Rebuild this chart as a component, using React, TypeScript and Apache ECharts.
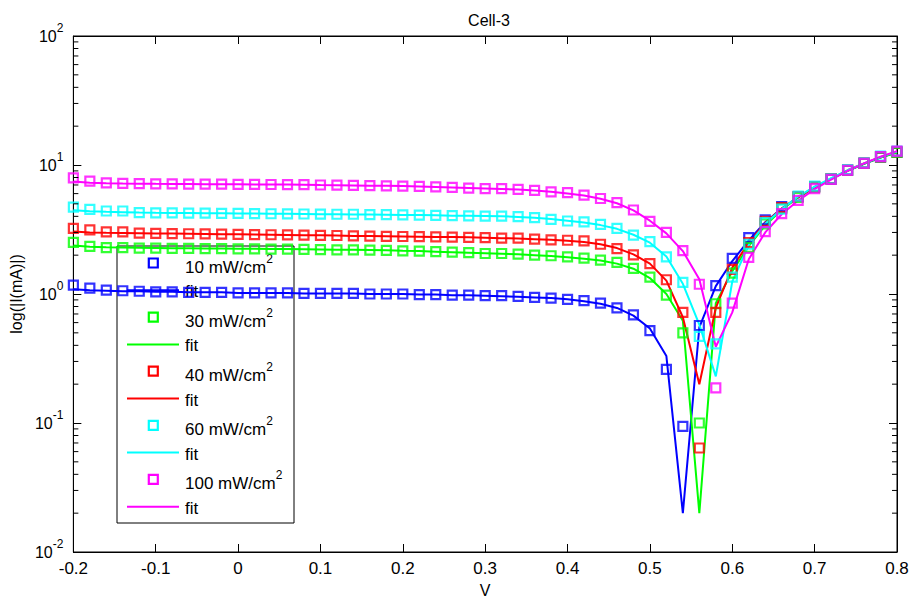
import React, { useEffect, useRef } from 'react';
import * as echarts from 'echarts';

const FONT = '"Liberation Sans", Arial, Helvetica, sans-serif';

const voltage = [
  -0.2, -0.18, -0.16, -0.14, -0.12, -0.1, -0.08, -0.06, -0.04, -0.02,
  0.0, 0.02, 0.04, 0.06, 0.08, 0.1, 0.12, 0.14, 0.16, 0.18,
  0.2, 0.22, 0.24, 0.26, 0.28, 0.3, 0.32, 0.34, 0.36, 0.38,
  0.4, 0.42, 0.44, 0.46, 0.48, 0.5, 0.52, 0.54, 0.56, 0.58,
  0.6, 0.62, 0.64, 0.66, 0.68, 0.7, 0.72, 0.74, 0.76, 0.78, 0.8,
];

// measured |I| (mA)
const meas10 = [
  1.17, 1.11, 1.07, 1.06, 1.05, 1.04, 1.04, 1.03, 1.03, 1.03,
  1.02, 1.02, 1.02, 1.02, 1.01, 1.01, 1.01, 1.01, 1.0, 1.0,
  1.0, 0.99, 0.99, 0.98, 0.98, 0.97, 0.97, 0.96, 0.94, 0.93,
  0.91, 0.89, 0.85, 0.78, 0.69, 0.52, 0.26, 0.094, 0.57, 1.16,
  1.89, 2.74, 3.75, 4.75, 5.7, 6.8, 7.8, 9.1, 10.3, 11.5, 12.6,
];
const meas30 = [
  2.51, 2.34, 2.29, 2.29, 2.27, 2.27, 2.26, 2.26, 2.25, 2.25,
  2.24, 2.24, 2.23, 2.23, 2.22, 2.21, 2.2, 2.2, 2.19, 2.18,
  2.16, 2.15, 2.13, 2.11, 2.09, 2.06, 2.06, 2.04, 2.0, 1.98,
  1.94, 1.9, 1.83, 1.76, 1.58, 1.35, 0.98, 0.5, 0.1, 0.84,
  1.45, 2.3, 3.5, 4.6, 5.6, 6.7, 7.8, 9.1, 10.3, 11.5, 12.5,
];
const meas40 = [
  3.23, 3.14, 3.03, 3.03, 2.96, 2.95, 2.94, 2.93, 2.92, 2.91,
  2.9, 2.89, 2.88, 2.87, 2.86, 2.85, 2.84, 2.82, 2.81, 2.8,
  2.79, 2.78, 2.77, 2.76, 2.75, 2.74, 2.71, 2.71, 2.66, 2.63,
  2.61, 2.58, 2.43, 2.25, 2.01, 1.72, 1.29, 0.72, 0.064, 0.72,
  1.55, 2.5, 3.65, 4.67, 5.7, 6.8, 7.8, 9.2, 10.4, 11.6, 12.7,
];
const meas60 = [
  4.72, 4.53, 4.4, 4.4, 4.27, 4.26, 4.25, 4.24, 4.23, 4.22,
  4.21, 4.2, 4.19, 4.18, 4.17, 4.16, 4.15, 4.15, 4.13, 4.12,
  4.1, 4.09, 4.07, 4.05, 4.04, 4.02, 4.02, 3.98, 3.91, 3.79,
  3.68, 3.62, 3.47, 3.23, 2.86, 2.55, 1.94, 1.23, 0.47, 0.41,
  1.35, 2.43, 3.58, 4.55, 5.74, 6.85, 7.8, 9.2, 10.4, 11.7, 12.8,
];
const meas100 = [
  7.96, 7.5, 7.28, 7.2, 7.18, 7.15, 7.13, 7.12, 7.1, 7.1,
  7.08, 7.07, 7.06, 7.05, 7.04, 7.0, 6.98, 6.95, 6.92, 6.9,
  6.86, 6.82, 6.76, 6.7, 6.62, 6.55, 6.55, 6.47, 6.35, 6.2,
  6.1, 5.85, 5.5, 5.1, 4.48, 3.65, 3.0, 2.17, 1.19, 0.187,
  0.85, 1.92, 3.05, 4.2, 5.32, 6.55, 7.73, 9.1, 10.3, 11.6, 12.8,
];

// fitted |I| (mA)
const fit10 = [
  1.09, 1.07, 1.06, 1.05, 1.05, 1.04, 1.04, 1.03, 1.03, 1.03,
  1.02, 1.02, 1.02, 1.02, 1.01, 1.01, 1.01, 1.01, 1.0, 1.0,
  1.0, 0.99, 0.99, 0.98, 0.98, 0.97, 0.96, 0.95, 0.94, 0.93,
  0.91, 0.88, 0.84, 0.78, 0.68, 0.54, 0.33, 0.02, 0.55, 1.15,
  1.8, 2.6, 3.6, 4.6, 5.6, 6.7, 7.8, 9.0, 10.2, 11.4, 12.6,
];
const fit30 = [
  2.38, 2.32, 2.3, 2.29, 2.28, 2.27, 2.26, 2.26, 2.25, 2.25,
  2.24, 2.24, 2.23, 2.23, 2.22, 2.21, 2.2, 2.2, 2.19, 2.18,
  2.16, 2.15, 2.13, 2.11, 2.09, 2.07, 2.05, 2.03, 2.0, 1.97,
  1.93, 1.88, 1.82, 1.72, 1.57, 1.33, 1.0, 0.62, 0.02, 0.85,
  1.5, 2.35, 3.4, 4.5, 5.6, 6.7, 7.8, 9.0, 10.2, 11.4, 12.5,
];
const fit40 = [
  3.05, 3.0, 2.98, 2.97, 2.96, 2.95, 2.94, 2.93, 2.92, 2.91,
  2.9, 2.89, 2.88, 2.87, 2.86, 2.85, 2.84, 2.82, 2.81, 2.8,
  2.79, 2.78, 2.77, 2.76, 2.75, 2.73, 2.71, 2.69, 2.66, 2.63,
  2.59, 2.53, 2.43, 2.27, 2.03, 1.72, 1.27, 0.66, 0.2, 0.78,
  1.6, 2.5, 3.55, 4.6, 5.65, 6.75, 7.85, 9.1, 10.3, 11.5, 12.7,
];
const fit60 = [
  4.45, 4.38, 4.34, 4.31, 4.28, 4.26, 4.25, 4.24, 4.23, 4.22,
  4.21, 4.2, 4.19, 4.18, 4.17, 4.16, 4.15, 4.14, 4.13, 4.12,
  4.1, 4.09, 4.07, 4.05, 4.04, 4.02, 4.0, 3.96, 3.9, 3.81,
  3.7, 3.58, 3.42, 3.2, 2.88, 2.5, 1.95, 1.2, 0.58, 0.23,
  1.25, 2.4, 3.5, 4.55, 5.7, 6.8, 7.9, 9.1, 10.3, 11.5, 12.7,
];
const fit100 = [
  7.45, 7.3, 7.22, 7.18, 7.16, 7.14, 7.13, 7.12, 7.1, 7.09,
  7.08, 7.07, 7.06, 7.05, 7.03, 7.0, 6.98, 6.95, 6.92, 6.89,
  6.86, 6.81, 6.76, 6.7, 6.64, 6.58, 6.52, 6.45, 6.35, 6.2,
  6.02, 5.8, 5.48, 5.05, 4.45, 3.7, 2.95, 2.15, 1.3, 0.39,
  0.72, 1.86, 3.0, 4.15, 5.3, 6.5, 7.7, 9.0, 10.3, 11.6, 12.8,
];

const measuredSets = [meas10, meas30, meas40, meas60, meas100];
const fitSets = [fit10, fit30, fit40, fit60, fit100];
const intensityLabels = ['10', '30', '40', '60', '100'];
const seriesColors = ['#0000ff', '#00ff00', '#ff0000', '#00ffff', '#ff00ff'];
const fitLabel = 'fit';
const unitLabel = ' mW/cm';

const xTickMin = -0.2;
const xTickMax = 0.8;
const xTickStep = 0.1;
const yMin = 0.01;
const yMax = 100;
const minorTickValues = [
  0.02, 0.03, 0.04, 0.05, 0.06, 0.07, 0.08, 0.09,
  0.2, 0.3, 0.4, 0.5, 0.6, 0.7, 0.8, 0.9,
  2, 3, 4, 5, 6, 7, 8, 9,
  20, 30, 40, 50, 60, 70, 80, 90,
];

const titleText = 'Cell-3';
const xName = 'V';
const yName = 'log(|I(mA)|)';

export default function App() {
  const ref = useRef<HTMLDivElement>(null);

  useEffect(() => {
    const chart = echarts.init(ref.current!, null, { renderer: 'svg' });

    const supRich = {
      b: { fontSize: 16, lineHeight: 16, fontFamily: FONT, color: '#000' },
      s: { fontSize: 12, lineHeight: 12, padding: [0, 0, 16, 0], fontFamily: FONT, color: '#000' },
    };

    const series: any[] = [];
    measuredSets.forEach((m, k) => {
      series.push({
        type: 'scatter',
        name: intensityLabels[k] + unitLabel + '2',
        data: voltage.map((v, i) => [v, m[i]]),
        symbol: 'rect',
        symbolSize: 9,
        itemStyle: { color: 'rgba(0,0,0,0)', borderColor: seriesColors[k], borderWidth: 2.2 },
        silent: true,
        z: 3,
      });
      series.push({
        type: 'line',
        name: fitLabel + ' ' + intensityLabels[k],
        data: voltage.map((v, i) => [v, fitSets[k][i]]),
        showSymbol: false,
        symbol: 'none',
        lineStyle: { color: seriesColors[k], width: 2 },
        silent: true,
        z: 3,
      });
    });

    series.push({
      type: 'custom',
      name: 'minorTicks',
      silent: true,
      clip: false,
      z: 4,
      encode: { x: 0, y: 1 },
      data: minorTickValues.map((v) => [xTickMin, v]),
      renderItem: (params: any, api: any) => {
        const v = api.value(1);
        const l = api.coord([xTickMin, v]);
        const r = api.coord([xTickMax, v]);
        return {
          type: 'group',
          children: [
            { type: 'line', shape: { x1: l[0], y1: l[1], x2: l[0] + 5, y2: l[1] }, style: { stroke: '#000', lineWidth: 1 } },
            { type: 'line', shape: { x1: r[0], y1: r[1], x2: r[0] - 5, y2: r[1] }, style: { stroke: '#000', lineWidth: 1 } },
          ],
        };
      },
    });

    // legend box drawn with graphic elements
    const legLeft = 117;
    const legTop = 246;
    const legW = 177;
    const legH = 277;
    const row0 = 263;
    const rowStep = 54.1;
    const fitOffset = 27.3;
    const legendChildren: any[] = [
      {
        type: 'rect',
        shape: { x: legLeft, y: legTop, width: legW, height: legH },
        style: { fill: '#fff', stroke: '#000', lineWidth: 1 },
      },
    ];
    intensityLabels.forEach((lab, k) => {
      const y = row0 + k * rowStep;
      legendChildren.push({
        type: 'rect',
        shape: { x: 148.8, y: y - 4.5, width: 9, height: 9 },
        style: { fill: 'none', stroke: seriesColors[k], lineWidth: 2.2 },
      });
      legendChildren.push({
        type: 'text',
        x: 185,
        y: y + 4.5,
        style: {
          text: `{b|${lab}${unitLabel}}{s|2}`,
          verticalAlign: 'middle',
          align: 'left',
          rich: {
            b: { fontSize: 17, lineHeight: 17, fontFamily: FONT, fill: '#000', color: '#000' },
            s: { fontSize: 12, lineHeight: 12, padding: [0, 0, 17, 0], fontFamily: FONT, fill: '#000', color: '#000' },
          },
        },
      });
      legendChildren.push({
        type: 'line',
        shape: { x1: 127, y1: y + fitOffset, x2: 179, y2: y + fitOffset },
        style: { stroke: seriesColors[k], lineWidth: 2 },
      });
      legendChildren.push({
        type: 'text',
        x: 185,
        y: y + fitOffset + 1.5,
        style: {
          text: fitLabel,
          verticalAlign: 'middle',
          align: 'left',
          fontSize: 17,
          fontFamily: FONT,
          fill: '#000',
        },
      });
    });

    const xAxisBase = {
      type: 'value',
      min: xTickMin,
      max: xTickMax,
      interval: xTickStep,
      splitLine: { show: false },
      axisLine: { show: true, onZero: false, lineStyle: { color: '#000', width: 1 } },
      axisTick: { show: true, inside: true, length: 8, lineStyle: { color: '#000', width: 1 } },
    };
    const yAxisBase = {
      type: 'log',
      logBase: 10,
      min: yMin,
      max: yMax,
      splitLine: { show: false },
      axisLine: { show: true, onZero: false, lineStyle: { color: '#000', width: 1 } },
      axisTick: { show: true, inside: true, length: 8, lineStyle: { color: '#000', width: 1 } },
    };

    const option: any = {
      animation: false,
      backgroundColor: '#fff',
      textStyle: { fontFamily: FONT, color: '#000' },
      title: {
        text: titleText,
        left: 484,
        top: 7,
        textAlign: 'center',
        textStyle: { fontSize: 16, fontWeight: 'normal', color: '#000', fontFamily: FONT },
      },
      grid: {
        left: 71,
        right: 16,
        top: 36,
        bottom: 49,
        show: true,
        borderColor: '#000',
        borderWidth: 1,
        backgroundColor: '#fff',
      },
      xAxis: [
        {
          ...xAxisBase,
          position: 'bottom',
          name: xName,
          nameLocation: 'middle',
          nameGap: 30,
          nameTextStyle: { fontSize: 16, color: '#000', fontFamily: FONT },
          axisLabel: {
            show: true,
            margin: 8,
            fontSize: 17,
            color: '#000',
            fontFamily: FONT,
            showMinLabel: true,
            showMaxLabel: true,
            formatter: (v: number) => String(Math.round(v * 10) / 10),
          },
        },
        {
          ...xAxisBase,
          position: 'top',
          axisLabel: { show: false },
        },
      ],
      yAxis: [
        {
          ...yAxisBase,
          position: 'left',
          name: yName,
          nameLocation: 'middle',
          nameGap: 44,
          nameTextStyle: { fontSize: 16, color: '#000', fontFamily: FONT },
          axisLabel: {
            show: true,
            margin: 10,
            showMinLabel: true,
            showMaxLabel: true,
            formatter: (v: number) => `{b|10}{s|${Math.round(Math.log10(v))}}`,
            rich: supRich,
          },
        },
        {
          ...yAxisBase,
          position: 'right',
          axisLabel: { show: false },
        },
      ],
      series,
      graphic: [{ type: 'group', z: 100, children: legendChildren }],
    };

    chart.setOption(option);
    return () => chart.dispose();
  }, []);

  return (
    <div
      ref={ref}
      style={{ position: 'fixed', left: 0, top: 0, width: 913, height: 603, background: '#fff' }}
    />
  );
}
